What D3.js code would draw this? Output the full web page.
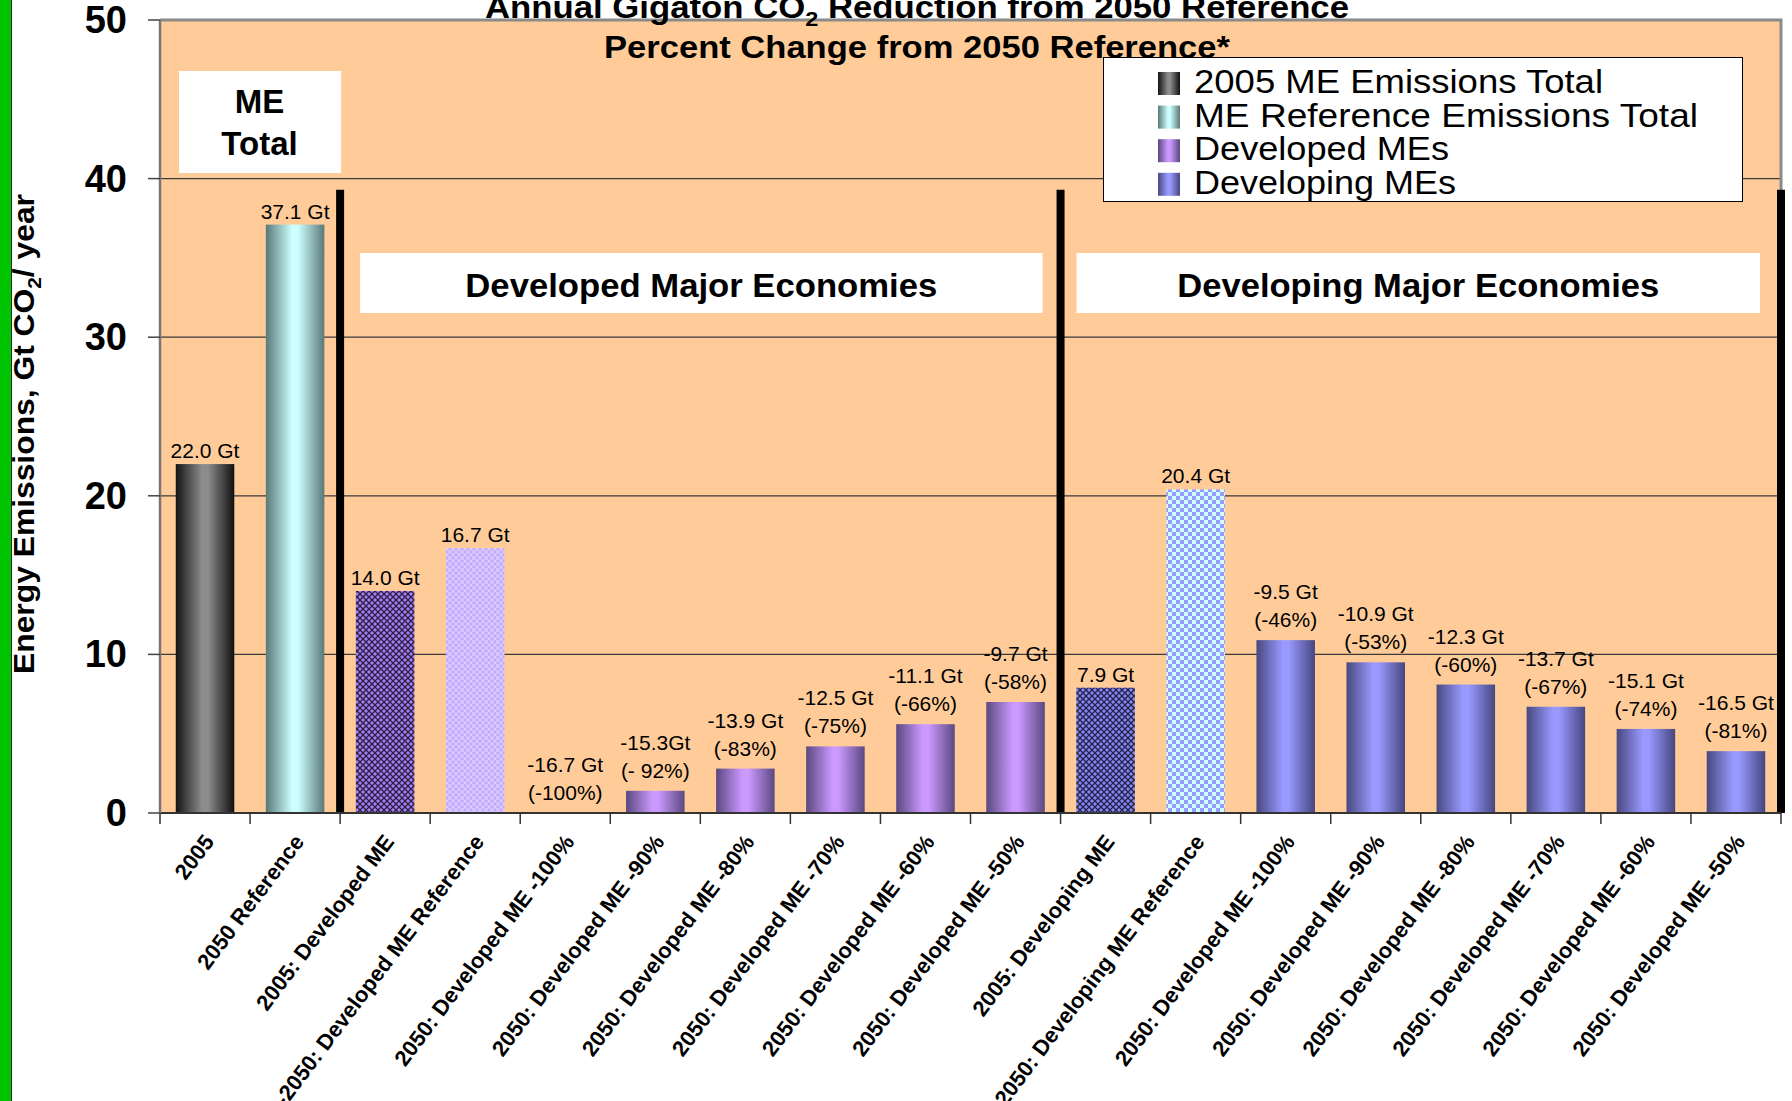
<!DOCTYPE html>
<html>
<head>
<meta charset="utf-8">
<script src="https://cdn.jsdelivr.net/npm/d3@7"></script>
<style>
  body { margin: 0; background: #fff; }
  text { font-family: "Liberation Sans", Arial, sans-serif; }
</style>
</head>
<body>
<svg id="chart" width="1792" height="1101"></svg>
<script>
// values
var categories = ["2005", "2050 Reference", "2005: Developed ME", "-2050: Developed ME Reference",
    "2050: Developed ME -100%", "2050: Developed ME -90%", "2050: Developed ME -80%",
    "2050: Developed ME -70%", "2050: Developed ME -60%", "2050: Developed ME -50%",
    "2005: Developing ME", "2050: Developing ME Reference",
    "2050: Developed ME -100%", "2050: Developed ME -90%", "2050: Developed ME -80%",
    "2050: Developed ME -70%", "2050: Developed ME -60%", "2050: Developed ME -50%"];
var values = [22.0, 37.1, 14.0, 16.7, 0, 1.4, 2.8, 4.2, 5.6, 7.0, 7.9, 20.4, 10.9, 9.5, 8.1, 6.7, 5.3, 3.9];
var fillKeys = ["gray", "cyan", "devHatch", "devLight", "dev", "dev", "dev", "dev", "dev", "dev",
    "ingHatch", "ingCheck", "ing", "ing", "ing", "ing", "ing", "ing"];
var gtLabels = ["22.0 Gt", "37.1 Gt", "14.0 Gt", "16.7 Gt", "-16.7 Gt", "-15.3Gt", "-13.9 Gt", "-12.5 Gt",
    "-11.1 Gt", "-9.7 Gt", "7.9 Gt", "20.4 Gt", "-9.5 Gt", "-10.9 Gt", "-12.3 Gt", "-13.7 Gt", "-15.1 Gt", "-16.5 Gt"];
var pctLabels = ["", "", "", "", "(-100%)", "(- 92%)", "(-83%)", "(-75%)", "(-66%)", "(-58%)", "", "",
    "(-46%)", "(-53%)", "(-60%)", "(-67%)", "(-74%)", "(-81%)"];
var yTicks = [0, 10, 20, 30, 40, 50];
var legendNames = ["2005 ME Emissions Total", "ME Reference Emissions Total", "Developed MEs", "Developing MEs"];
var legendKeys = ["gray", "cyan", "dev", "ing"];
var sectionNames = ["Developed Major Economies", "Developing Major Economies"];

var svg = d3.select("#chart");
var defs = svg.append("defs");

// cylinder style gradients
var grads = {
    gray: ["#141414", "#8c8c8c", "#101010"],
    cyan: ["#5a7878", "#ccffff", "#5a7878"],
    dev:  ["#5a4880", "#cc99ff", "#5a4880"],
    ing:  ["#484880", "#9999ff", "#464680"]
};
Object.keys(grads).forEach(function(k) {
    var g = defs.append("linearGradient").attr("id", "g_" + k)
        .attr("x1", "0%").attr("x2", "100%").attr("y1", "0%").attr("y2", "0%");
    g.append("stop").attr("offset", "0%").attr("stop-color", grads[k][0]);
    g.append("stop").attr("offset", "45%").attr("stop-color", grads[k][1]);
    g.append("stop").attr("offset", "55%").attr("stop-color", grads[k][1]);
    g.append("stop").attr("offset", "100%").attr("stop-color", grads[k][2]);
});

function hatch(id, base, line, w) {
    var p = defs.append("pattern").attr("id", id).attr("patternUnits", "userSpaceOnUse")
        .attr("width", 6).attr("height", 6);
    p.append("rect").attr("width", 6).attr("height", 6).attr("fill", base);
    p.append("path").attr("d", "M0,0L6,6M6,0L0,6").attr("stroke", line).attr("stroke-width", w);
}
hatch("p_devHatch", "#a67cf5", "#2a2040", 1.3);
hatch("p_devLight", "#c4aaff", "#ddd0ff", 1.2);
hatch("p_ingHatch", "#8686f5", "#23234a", 1.3);

var chk = defs.append("pattern").attr("id", "p_ingCheck").attr("patternUnits", "userSpaceOnUse")
    .attr("width", 8).attr("height", 8);
chk.append("rect").attr("width", 8).attr("height", 8).attr("fill", "#ccffff");
chk.append("rect").attr("width", 4).attr("height", 4).attr("fill", "#9999ff");
chk.append("rect").attr("x", 4).attr("y", 4).attr("width", 4).attr("height", 4).attr("fill", "#9999ff");

function fillFor(k) {
    return grads[k] ? "url(#g_" + k + ")" : "url(#p_" + k + ")";
}

var x = d3.scaleBand().domain(d3.range(categories.length)).range([160, 1781]).paddingInner(0).paddingOuter(0);
var y = d3.scaleLinear().domain([0, 50]).range([813, 20]);
var bw = x.bandwidth() * 0.65;

// green strip on the left
svg.append("rect").attr("x", 0).attr("y", 0).attr("width", 11).attr("height", 1101).attr("fill", "#00c400");
svg.append("line").attr("x1", 11.5).attr("x2", 11.5).attr("y1", 0).attr("y2", 1101).attr("stroke", "#2a2a2a").attr("stroke-width", 1);

// plot background
svg.append("rect").attr("x", x.range()[0]).attr("y", y(50))
    .attr("width", x.range()[1] - x.range()[0]).attr("height", y(0) - y(50))
    .attr("fill", "#ffcc99");

// gridlines
svg.append("g").selectAll("line").data(yTicks.filter(function(d) { return d > 0 && d < 50; }))
  .enter().append("line")
    .attr("x1", 160).attr("x2", 1781)
    .attr("y1", function(d) { return y(d); }).attr("y2", function(d) { return y(d); })
    .attr("stroke", "#3a3a3a").attr("stroke-width", 1.2);

// plot border
svg.append("path")
    .attr("d", "M160," + y(50) + "H1781V" + y(0))
    .attr("fill", "none").attr("stroke", "#8a8a8a").attr("stroke-width", 3);

// ME total label box
svg.append("rect").attr("x", x(0) + 19).attr("y", 71).attr("width", x(2) - x(0) - 18).attr("height", 102).attr("fill", "#fff");
svg.append("text").attr("x", (x(0) + 19 + x(2)) / 2).attr("y", 113).attr("text-anchor", "middle")
    .attr("font-size", 33).attr("font-weight", "bold").text("ME");
svg.append("text").attr("x", (x(0) + 19 + x(2)) / 2).attr("y", 155).attr("text-anchor", "middle")
    .attr("font-size", 33).attr("font-weight", "bold").text("Total");

// section label boxes
var sections = [[x(2) + 20, x(10) - 18], [x(10) + 16, x(17) + x.bandwidth() - 21]];
var sec = svg.append("g").selectAll("g").data(sections).enter().append("g");
sec.append("rect").attr("x", function(d) { return d[0]; }).attr("y", 253)
    .attr("width", function(d) { return d[1] - d[0]; }).attr("height", 60).attr("fill", "#fff");
sec.append("text").attr("x", function(d) { return (d[0] + d[1]) / 2; }).attr("y", 297)
    .attr("text-anchor", "middle").attr("font-size", 33).attr("font-weight", "bold")
    .attr("textLength", function(d, i) { return i == 0 ? 472 : 482; })
    .attr("lengthAdjust", "spacingAndGlyphs")
    .text(function(d, i) { return sectionNames[i]; });

// bars
svg.append("g").selectAll("rect").data(values).enter().append("rect")
    .attr("x", function(d, i) { return x(i) + (x.bandwidth() - bw) / 2; })
    .attr("y", function(d) { return y(d); })
    .attr("width", bw)
    .attr("height", function(d) { return y(0) - y(d); })
    .attr("fill", function(d, i) { return fillFor(fillKeys[i]); });

// separators between groups
svg.append("g").selectAll("line").data([2, 10, 18]).enter().append("line")
    .attr("x1", function(d) { return 160 + d * x.bandwidth(); })
    .attr("x2", function(d) { return 160 + d * x.bandwidth(); })
    .attr("y1", y(39.3)).attr("y2", y(0))
    .attr("stroke", "#000").attr("stroke-width", 8);

// x axis line and ticks
svg.append("line").attr("x1", 160).attr("x2", 1781).attr("y1", y(0)).attr("y2", y(0))
    .attr("stroke", "#333").attr("stroke-width", 2);
svg.append("g").selectAll("line").data(d3.range(categories.length + 1)).enter().append("line")
    .attr("x1", function(d) { return 160 + d * x.bandwidth(); })
    .attr("x2", function(d) { return 160 + d * x.bandwidth(); })
    .attr("y1", y(0)).attr("y2", y(0) + 11)
    .attr("stroke", "#333").attr("stroke-width", 1.5);

// y axis
svg.append("line").attr("x1", 160).attr("x2", 160).attr("y1", y(50)).attr("y2", y(0))
    .attr("stroke", "#777").attr("stroke-width", 2.5);
svg.append("g").selectAll("line").data(yTicks).enter().append("line")
    .attr("x1", 148).attr("x2", 160)
    .attr("y1", function(d) { return y(d); }).attr("y2", function(d) { return y(d); })
    .attr("stroke", "#444").attr("stroke-width", 1.5);
svg.append("g").selectAll("text").data(yTicks).enter().append("text")
    .attr("x", 127).attr("y", function(d) { return y(d) + 13; })
    .attr("text-anchor", "end").attr("font-size", 38).attr("font-weight", "bold")
    .text(function(d) { return d; });

// y axis title
var yt = svg.append("text").attr("transform", "translate(34,434) rotate(-90)")
    .attr("text-anchor", "middle").attr("font-size", 29).attr("font-weight", "bold")
    .attr("textLength", 480).attr("lengthAdjust", "spacingAndGlyphs");
yt.append("tspan").text("Energy Emissions, Gt CO");
yt.append("tspan").attr("font-size", 19).attr("dy", 7).text("2");
yt.append("tspan").attr("dy", -7).text("/ year");

// x category labels
svg.append("g").selectAll("text").data(categories).enter().append("text")
    .attr("transform", function(d, i) {
        return "translate(" + (x(i) + x.bandwidth() / 2 + 10) + "," + (y(0) + 29) + ") rotate(-53)";
    })
    .attr("text-anchor", "end").attr("font-size", 22).attr("font-weight", "bold")
    .text(function(d) { return d; });

// bar value labels
var lab = svg.append("g").selectAll("g").data(values).enter().append("g");
lab.append("text")
    .attr("x", function(d, i) { return x(i) + x.bandwidth() / 2; })
    .attr("y", function(d, i) { return pctLabels[i] ? y(d) - 41 : y(d) - 6; })
    .attr("text-anchor", "middle").attr("font-size", 21)
    .text(function(d, i) { return gtLabels[i]; });
lab.append("text")
    .attr("x", function(d, i) { return x(i) + x.bandwidth() / 2; })
    .attr("y", function(d) { return y(d) - 13; })
    .attr("text-anchor", "middle").attr("font-size", 21)
    .text(function(d, i) { return pctLabels[i]; });

// titles
var t1 = svg.append("text").attr("x", 917).attr("y", 18).attr("text-anchor", "middle")
    .attr("font-size", 31).attr("font-weight", "bold")
    .attr("textLength", 864).attr("lengthAdjust", "spacingAndGlyphs");
t1.append("tspan").text("Annual Gigaton CO");
t1.append("tspan").attr("font-size", 21).attr("dy", 8).text("2");
t1.append("tspan").attr("dy", -8).text(" Reduction from 2050 Reference");
svg.append("text").attr("x", 917).attr("y", 58).attr("text-anchor", "middle")
    .attr("font-size", 31).attr("font-weight", "bold")
    .attr("textLength", 626).attr("lengthAdjust", "spacingAndGlyphs")
    .text("Percent Change from 2050 Reference*");

// legend
var lg = svg.append("g");
lg.append("rect").attr("x", 1103.5).attr("y", 57.5).attr("width", 639).attr("height", 144)
    .attr("fill", "#fff").attr("stroke", "#000").attr("stroke-width", 1);
var li = lg.selectAll("g.item").data(legendNames).enter().append("g").attr("class", "item");
li.append("rect").attr("x", 1158).attr("y", function(d, i) { return 72 + i * 33.6; })
    .attr("width", 22).attr("height", 23)
    .attr("fill", function(d, i) { return fillFor(legendKeys[i]); });
li.append("text").attr("x", 1194).attr("y", function(d, i) { return 93 + i * 33.6; })
    .attr("font-size", 33)
    .attr("textLength", function(d, i) { return [409, 504, 255, 262][i]; })
    .attr("lengthAdjust", "spacingAndGlyphs")
    .text(function(d) { return d; });
</script>
</body>
</html>
